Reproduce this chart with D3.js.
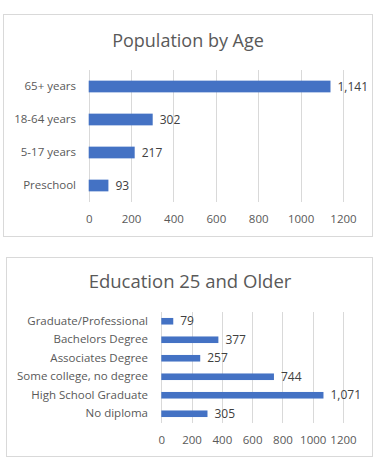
<!DOCTYPE html>
<html><head><meta charset="utf-8">
<script src="https://cdn.jsdelivr.net/npm/d3@7"></script>
<style>
html,body{margin:0;padding:0;background:#fff;}
svg{display:block;}
text{font-family:"Open Sans",sans-serif;}
</style></head>
<body>
<svg id="c" width="381" height="467"></svg>
<script>
const ageCategories = ["65+ years", "18-64 years", "5-17 years", "Preschool"];
const ageValues = [1141, 302, 217, 93];
const eduCategories = ["Graduate/Professional", "Bachelors Degree", "Associates Degree", "Some college, no degree", "High School Graduate", "No diploma"];
const eduValues = [79, 377, 257, 744, 1071, 305];
const xTicks = [0, 200, 400, 600, 800, 1000, 1200];

const svg = d3.select("#c");
const fmt = d3.format(",");
const BAR = "#4472C4", GRID = "#d9d9d9", TXT = "#595959";

function chart(cfg) {
  const g = svg.append("g");
  g.append("rect").attr("x", cfg.box[0]+0.5).attr("y", cfg.box[1]+0.5)
    .attr("width", cfg.box[2]).attr("height", cfg.box[3])
    .attr("fill", "#fff").attr("stroke", GRID).attr("stroke-width", 1);
  g.append("text").attr("x", cfg.titleX).attr("y", cfg.titleY)
    .attr("text-anchor", "middle").attr("fill", TXT)
    .style("font-size", cfg.titleSize + "px").text(cfg.title);
  const x = d3.scaleLinear().domain([0, 1200]).range([cfg.x0, cfg.x1]);
  const y = d3.scaleBand().domain(cfg.cats).range([cfg.y0, cfg.y1]).paddingInner(0.645).paddingOuter(0.3225);
  g.append("g").selectAll("line").data(xTicks).join("line")
    .attr("x1", d => Math.round(x(d)) + 0.5).attr("x2", d => Math.round(x(d)) + 0.5)
    .attr("y1", cfg.y0).attr("y2", cfg.y1)
    .attr("stroke", GRID).attr("stroke-width", 1);
  const ax = g.append("g").attr("transform", `translate(0,${cfg.tickY})`)
    .call(d3.axisBottom(x).tickValues(xTicks).tickFormat(d3.format("d")).tickSize(0).tickPadding(0));
  ax.select(".domain").remove();
  ax.selectAll("text").attr("fill", TXT).attr("dy", "0.32em").style("font-size", cfg.fs + "px");
  const ay = g.append("g").attr("transform", `translate(${cfg.labelX},0)`)
    .call(d3.axisLeft(y).tickSize(0).tickPadding(0));
  ay.select(".domain").remove();
  ay.selectAll("text").attr("fill", TXT).style("font-size", cfg.fs + "px");
  const data = cfg.cats.map((c, i) => ({c, v: cfg.vals[i]}));
  g.append("g").selectAll("rect").data(data).join("rect")
    .attr("x", x(0)).attr("y", d => y(d.c))
    .attr("width", d => x(d.v) - x(0)).attr("height", y.bandwidth())
    .attr("fill", BAR);
  g.append("g").selectAll("text").data(data).join("text")
    .attr("x", d => x(d.v) + cfg.labOff).attr("y", d => y(d.c) + y.bandwidth()/2)
    .attr("dy", "0.35em").attr("fill", "#404040")
    .style("font-size", cfg.labFs + "px").text(d => fmt(d.v));
}

chart({box:[3,14,369,222], title:"Population by Age", titleX:188, titleY:47, titleSize:18,
  cats: ageCategories, vals: ageValues, x0:88.7, x1:343, y0:70, y1:202, tickY:219,
  labelX:76, fs:11.5, labFs:12, labOff:7});
chart({box:[6,257,366,199], title:"Education 25 and Older", titleX:190, titleY:288, titleSize:18.5,
  cats: eduCategories, vals: eduValues, x0:161.3, x1:343, y0:312, y1:423, tickY:440,
  labelX:148, fs:11.5, labFs:12, labOff:7});
</script>
</body></html>
